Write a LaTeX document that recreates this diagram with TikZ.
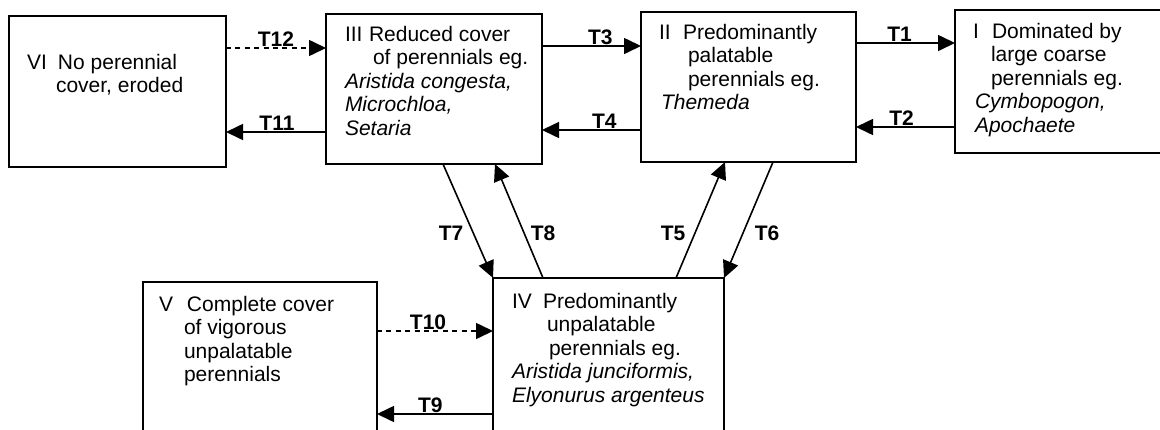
\documentclass[tikz,border=0pt]{standalone}
\usepackage{fontspec}
\setmainfont{Liberation Sans}
\usetikzlibrary{arrows.meta,calc}
\begin{document}
\begin{tikzpicture}[x=0.5pt,y=-0.5pt,
  box/.style={draw,line width=0.8pt,rectangle,inner sep=0pt,outer sep=0pt,anchor=north west},
  txt/.style={anchor=base west,inner sep=0pt,outer sep=0pt,font=\fontsize{10.5pt}{11.75pt}\selectfont},
  lbl/.style={font=\fontsize{10.5pt}{11.75pt}\selectfont\bfseries,inner sep=0pt},
  hl/.style={lbl,anchor=base,yshift=1pt},
  conn/.style={line width=0.8pt,-{Triangle[length=8.5pt,width=8pt]}},
  dconn/.style={conn,dash pattern=on 2.5pt off 2.2pt}]
\useasboundingbox (0,0) rectangle (1160,429);
\clip (0,0) rectangle (1160,429);
% boxes
\node[box,minimum width=108.5pt,minimum height=75.5pt] (VI) at (9,16) {};
\node[box,minimum width=108pt,minimum height=75pt] (III) at (326,14) {};
\node[box,minimum width=107.5pt,minimum height=75pt] (II) at (641,12) {};
\node[box,minimum width=110pt,minimum height=71.5pt] (I) at (955,10) {};
\node[box,minimum width=117pt,minimum height=81.5pt] (V) at (143,282) {};
\node[box,minimum width=115.5pt,minimum height=83.5pt] (IV) at (493,278) {};
% texts
\node[txt] (tVI) at (27,69) {\begin{tabular}[t]{@{}l@{}}\makebox[15.5pt][l]{VI}No perennial\\\hspace*{14.5pt}cover, eroded\end{tabular}};
\node[txt] (tIII) at (345,41) {\begin{tabular}[t]{@{}l@{}}\makebox[12pt][l]{III}Reduced cover\\\hspace*{14pt}of perennials eg.\\\textit{Aristida congesta,}\\\textit{Microchloa,}\\\textit{Setaria}\end{tabular}};
\node[txt] (tII) at (659,39) {\begin{tabular}[t]{@{}l@{}}\makebox[12pt][l]{II}Predominantly\\\hspace*{14.5pt}palatable\\\hspace*{14.5pt}perennials eg.\\\hspace*{1pt}\textit{Themeda}\end{tabular}};
\node[txt] (tI) at (973,38) {\begin{tabular}[t]{@{}l@{}}\makebox[9.5pt][l]{I}Dominated by\\\hspace*{9pt}large coarse\\\hspace*{9pt}perennials eg.\\\hspace*{1pt}\textit{Cymbopogon,}\\\hspace*{1pt}\textit{Apochaete}\end{tabular}};
\node[txt] (tIV) at (512,308) {\begin{tabular}[t]{@{}l@{}}\makebox[15.5pt][l]{IV}Predominantly\\\hspace*{17.5pt}unpalatable\\\hspace*{18.5pt}perennials eg.\\\textit{Aristida junciformis,}\\\textit{Elyonurus argenteus}\end{tabular}};
\node[txt] (tV) at (159,311) {\begin{tabular}[t]{@{}l@{}}\makebox[14pt][l]{V}Complete cover\\\hspace*{12.5pt}of vigorous\\\hspace*{12.5pt}unpalatable\\\hspace*{12.5pt}perennials\end{tabular}};
% horizontal connectors
\draw[dconn] ($(VI.north east)+(0,32)$) -- node[hl,pos=0.5] (l12) {T12} ($(III.north west)+(0,34)$);
\draw[conn] ($(III.north west)+(0,118)$) -- node[hl,pos=0.49] (l11) {T11} ($(VI.north east)+(0,116)$);
\draw[conn] ($(III.north east)+(0,32)$) -- node[hl,pos=0.59] (l3) {T3} ($(II.north west)+(0,34)$);
\draw[conn] ($(II.north west)+(0,118)$) -- node[hl,pos=0.37] (l4) {T4} ($(III.north east)+(0,116)$);
\draw[conn] ($(II.north east)+(0,31)$) -- node[hl,pos=0.44] (l1) {T1} ($(I.north west)+(0,33)$);
\draw[conn] ($(I.north west)+(0,117)$) -- node[hl,pos=0.54] (l2) {T2} ($(II.north east)+(0,115)$);
\draw[dconn] ($(V.north east)+(0,49)$) -- node[hl,pos=0.44] (l10) {T10} ($(IV.north west)+(0,53)$);
\draw[conn] ($(IV.north west)+(0,136)$) -- node[hl,pos=0.54] (l9) {T9} ($(V.north east)+(0,132)$);
% diagonal connectors
\draw[conn] ($(III.south west)+(117,0)$) -- (IV.north west);
\draw[conn] ($(IV.north west)+(50,0)$) -- ($(III.south west)+(169,0)$);
\draw[conn] ($(IV.north west)+(183,0)$) -- ($(II.south west)+(84,0)$);
\draw[conn] ($(II.south west)+(132,0)$) -- (IV.north east);
\node[lbl] (l7) at (451,233) {T7};
\node[lbl] (l8) at (543,233) {T8};
\node[lbl] (l5) at (673,233) {T5};
\node[lbl] (l6) at (767,233) {T6};
\end{tikzpicture}
\end{document}
